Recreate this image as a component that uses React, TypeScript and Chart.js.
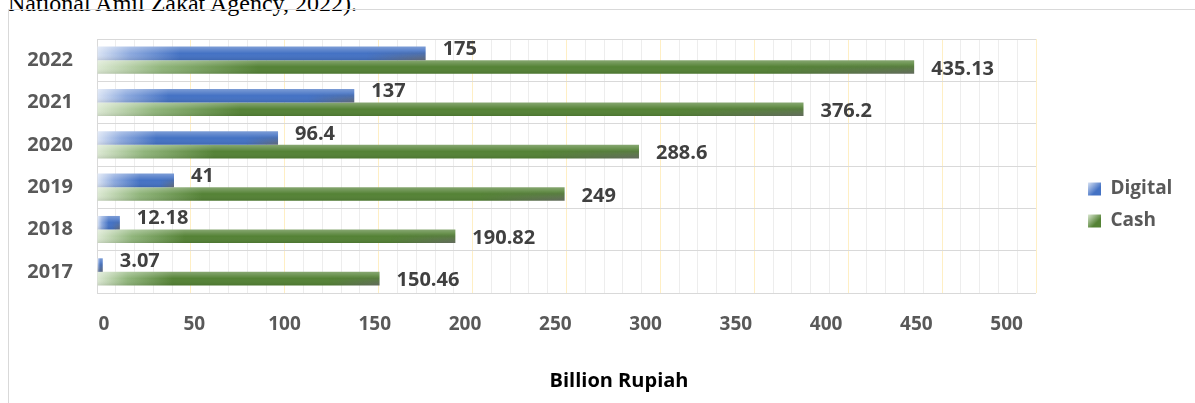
import React, { useEffect, useRef } from 'react';
import { Chart, registerables } from 'chart.js';

Chart.register(...registerables);

// ---------- data ----------
const categories = ['2017', '2018', '2019', '2020', '2021', '2022'];
const seriesNames = ['Digital', 'Cash'];
const digitalValues = [3.07, 12.18, 41, 96.4, 137, 175];
const cashValues = [150.46, 190.82, 249, 288.6, 376.2, 435.13];
const xTickLabels = [0, 50, 100, 150, 200, 250, 300, 350, 400, 450, 500];
const axisTitle = 'Billion Rupiah';
const captionText = 'National Amil Zakat Agency, 2022).';

// label axis range (the source draws its tick labels slightly compressed)
const X_LABEL_MIN = -3.9;
const X_LABEL_MAX = 516.3;

const FONT = '"Open Sans", "Noto Sans", sans-serif';

const PALETTE: Record<string, { light: string; mid: string; main: string }> = {
  Digital: { light: '#D9E3F4', mid: '#8CA9DE', main: '#4472C4' },
  Cash: { light: '#DCE9D3', mid: '#90B57B', main: '#548235' },
};

function barFill(ctx: CanvasRenderingContext2D, left: number, top: number, w: number, h: number, pal: any) {
  const pad = 2;
  const fx = Math.floor(left) - pad;
  const fy = Math.floor(top) - pad;
  const ox = left - fx;
  const oy = top - fy;
  const cw = Math.max(1, Math.ceil(ox + w) + pad);
  const ch = Math.max(1, Math.ceil(oy + h) + pad);
  const off = document.createElement('canvas');
  off.width = cw;
  off.height = ch;
  const o = off.getContext('2d')!;
  const ww = Math.max(w, 1);
  const p = ww < 30 ? 0.5 : Math.min(0.55, (30 + 0.16 * ww) / ww);
  const g = o.createLinearGradient(ox, 0, ox + ww, 0);
  g.addColorStop(0, pal.light);
  g.addColorStop(p * 0.4, pal.mid);
  g.addColorStop(p, pal.main);
  g.addColorStop(1, pal.main);
  o.fillStyle = g;
  o.fillRect(0, 0, cw, ch);
  const v = o.createLinearGradient(0, oy, 0, oy + h);
  v.addColorStop(0, 'rgba(255,255,255,0.3)');
  v.addColorStop(0.5, 'rgba(255,255,255,0)');
  v.addColorStop(1, 'rgba(0,0,0,0.1)');
  o.fillStyle = v;
  o.fillRect(0, 0, cw, ch);
  const t = document.createElement('canvas');
  t.width = cw;
  t.height = ch;
  const tc = t.getContext('2d')!;
  const gv = tc.createLinearGradient(0, oy, 0, oy + h);
  gv.addColorStop(0, 'rgba(105,105,105,0)');
  gv.addColorStop(0.3, 'rgba(105,105,105,0)');
  gv.addColorStop(1, 'rgba(105,105,105,0.8)');
  tc.fillStyle = gv;
  tc.fillRect(0, 0, cw, ch);
  tc.globalCompositeOperation = 'destination-in';
  const G = Math.max(8, 0.18 * ww);
  const gh = tc.createLinearGradient(ox + ww - G, 0, ox + ww, 0);
  gh.addColorStop(0, 'rgba(0,0,0,0)');
  gh.addColorStop(1, 'rgba(0,0,0,1)');
  tc.fillStyle = gh;
  tc.fillRect(0, 0, cw, ch);
  o.drawImage(t, 0, 0);
  const pat = ctx.createPattern(off, 'no-repeat')!;
  pat.setTransform(new DOMMatrix([1, 0, 0, 1, fx, fy]));
  return pat;
}

const barStylePlugin = {
  id: 'barStyle',
  beforeDraw(chart: any) {
    const lg = chart.legend;
    if (!lg || !lg.legendItems || !lg.legendHitBoxes) return;
    lg.legendItems.forEach((item: any, i: number) => {
      const hb = lg.legendHitBoxes[i];
      const pal = PALETTE[item.text];
      if (!hb || !pal) return;
      const bt = hb.top + (hb.height - 13) / 2;
      const g = chart.ctx.createLinearGradient(hb.left, bt, hb.left + 13, bt + 13);
      g.addColorStop(0, pal.light);
      g.addColorStop(0.65, pal.main);
      g.addColorStop(1, pal.main);
      item.fillStyle = g;
    });
  },
  beforeDatasetDraw(chart: any, args: any) {
    const pal = PALETTE[seriesNames[args.index]];
    args.meta.data.forEach((el: any) => {
      const { x, y, base, height } = el.getProps(['x', 'y', 'base', 'height'], true);
      const left = Math.min(x, base);
      const w = Math.abs(x - base);
      const top = y - height / 2;
      el.options.backgroundColor = barFill(chart.ctx, left, top, w, height, pal);
    });
  },
};

const valueLabelPlugin = {
  id: 'valueLabels',
  afterDatasetsDraw(chart: any) {
    const ctx = chart.ctx;
    ctx.save();
    ctx.font = `bold 20px ${FONT}`;
    ctx.fillStyle = '#404040';
    ctx.textBaseline = 'middle';
    ctx.textAlign = 'left';
    chart.data.datasets.forEach((ds: any, di: number) => {
      const meta = chart.getDatasetMeta(di);
      meta.data.forEach((el: any, i: number) => {
        const { x, y } = el.getProps(['x', 'y'], true);
        ctx.fillText(String(ds.data[i]), x + 17, y + (di === 0 ? -4 : 2));
      });
    });
    ctx.restore();
  },
};

const noPad = (s: any) => {
  s.paddingTop = 0;
  s.paddingBottom = 0;
  s.paddingLeft = 0;
  s.paddingRight = 0;
};

export default function App() {
  const ref = useRef<HTMLCanvasElement>(null);

  useEffect(() => {
    const canvas = ref.current;
    if (!canvas) return;
    const chart = new Chart(canvas, {
      type: 'bar',
      data: {
        labels: categories,
        datasets: [
          {
            label: seriesNames[0],
            data: digitalValues,
            backgroundColor: () => PALETTE.Digital.main,
            borderWidth: 0,
            categoryPercentage: 0.64,
            barPercentage: 1,
          },
          {
            label: seriesNames[1],
            data: cashValues,
            backgroundColor: () => PALETTE.Cash.main,
            borderWidth: 0,
            categoryPercentage: 0.64,
            barPercentage: 1,
          },
        ],
      },
      options: {
        indexAxis: 'y',
        responsive: false,
        animation: false,
        devicePixelRatio: 1,
        layout: { autoPadding: false, padding: { top: 29, left: 0, right: 0, bottom: 0 } },
        scales: {
          x: {
            type: 'linear',
            position: 'bottom',
            min: 0,
            max: 500,
            ticks: { display: false, stepSize: 10 },
            grid: {
              drawTicks: false,
              color: (c: any) => {
                const v = c.tick ? c.tick.value : 1;
                if (v === 0) return '#D9D9D9';
                return v % 50 === 0 ? '#FFEFC4' : '#EDEDED';
              },
            },
            border: { display: false },
            afterFit: (s: any) => {
              noPad(s);
              s.height = 0;
            },
          },
          x2: {
            type: 'linear',
            axis: 'x',
            position: 'bottom',
            min: X_LABEL_MIN,
            max: X_LABEL_MAX,
            grid: { display: false, drawTicks: false },
            border: { display: false },
            ticks: {
              color: '#595959',
              font: { family: FONT, size: 19, weight: 'bold' },
              padding: 20,
              maxRotation: 0,
              autoSkip: false,
            },
            afterBuildTicks: (s: any) => {
              s.ticks = xTickLabels.map((v) => ({ value: v }));
            },
            afterFit: (s: any) => {
              noPad(s);
              s.height = 43;
            },
          },
          y: {
            type: 'category',
            reverse: true,
            grid: { color: '#D9D9D9', drawTicks: false, offset: true },
            border: { display: true, color: '#D9D9D9' },
            ticks: {
              color: '#595959',
              font: { family: FONT, size: 20, weight: 'bold' },
              padding: 24,
            },
            afterFit: (s: any) => {
              noPad(s);
              s.width = 88;
            },
          },
          sp1: {
            type: 'linear',
            axis: 'y',
            position: 'right',
            weight: 0,
            grid: { display: false, drawTicks: false },
            border: { display: false },
            ticks: { display: false },
            afterFit: (s: any) => {
              noPad(s);
              s.width = 39;
            },
          },
          sp2: {
            type: 'linear',
            axis: 'y',
            position: 'right',
            weight: 2000,
            grid: { display: false, drawTicks: false },
            border: { display: false },
            ticks: { display: false },
            afterFit: (s: any) => {
              noPad(s);
              const lw = s.chart.legend ? s.chart.legend.width : 0;
              s.width = Math.max(0, 154 - lw);
            },
          },
        },
        plugins: {
          tooltip: { enabled: false },
          legend: {
            position: 'right',
            align: 'start',
            title: { display: true, text: '', padding: { top: 113, bottom: 0 }, font: { size: 12 } },
            labels: {
              boxWidth: 13,
              boxHeight: 13,
              padding: 13,
              color: '#595959',
              font: { family: FONT, size: 19, weight: 'bold' },
            },
          },
          title: {
            display: true,
            position: 'bottom',
            text: axisTitle,
            color: '#000000',
            font: { family: FONT, size: 20, weight: 'bold' },
            padding: { top: 33, bottom: 10 },
          },
        },
      } as any,
      plugins: [barStylePlugin, valueLabelPlugin],
    });
    return () => chart.destroy();
  }, []);

  return (
    <div
      style={{
        position: 'fixed',
        left: 0,
        top: 0,
        width: 1195,
        height: 403,
        overflow: 'hidden',
        background: '#ffffff',
      }}
    >
      <div
        style={{
          position: 'absolute',
          left: 8,
          top: -9,
          fontFamily: '"Liberation Serif", "Times New Roman", serif',
          fontSize: 24,
          lineHeight: '24px',
          whiteSpace: 'nowrap',
          color: '#000',
        }}
      >
        {captionText}
      </div>
      <div
        style={{
          position: 'absolute',
          left: 8,
          top: 9,
          width: 1222,
          height: 600,
          border: '1px solid #D9D9D9',
          boxSizing: 'border-box',
        }}
      />
      <canvas
        ref={ref}
        width={1220}
        height={393}
        style={{ position: 'absolute', left: 9, top: 10, width: 1220, height: 393 }}
      />
    </div>
  );
}
